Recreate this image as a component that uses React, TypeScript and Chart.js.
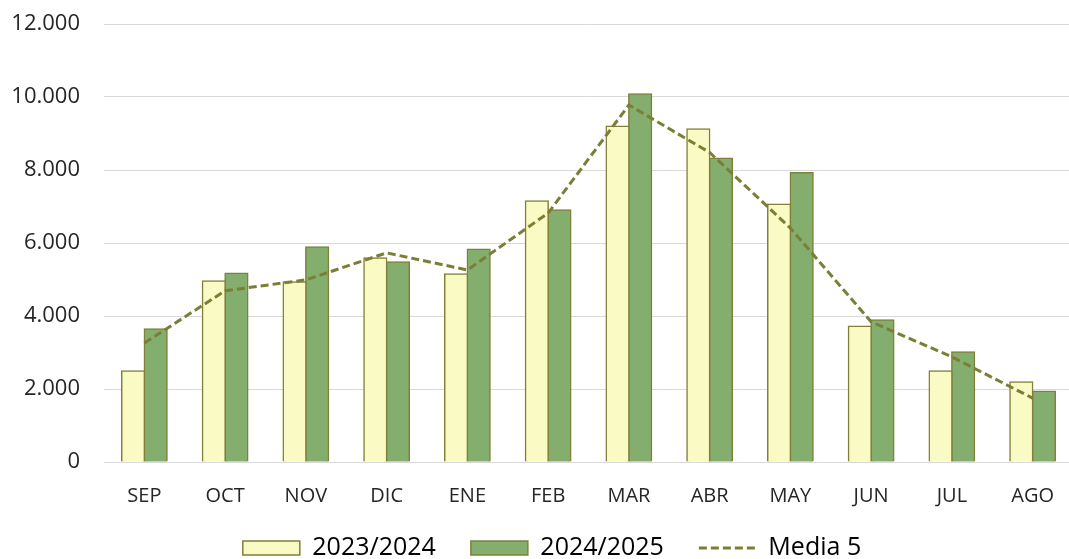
import React, { useEffect, useRef } from "react";
import { Chart, registerables } from "chart.js";

Chart.register(...registerables);

const months = ["SEP", "OCT", "NOV", "DIC", "ENE", "FEB", "MAR", "ABR", "MAY", "JUN", "JUL", "AGO"];
const season2324 = [2490, 4960, 4930, 5590, 5150, 7150, 9200, 9120, 7060, 3720, 2490, 2190];
const season2425 = [3640, 5170, 5890, 5480, 5830, 6900, 10080, 8320, 7920, 3890, 3010, 1940];
const media5 = [3260, 4690, 4990, 5730, 5260, 6820, 9780, 8480, 6410, 3840, 2880, 1750];

const FONT = "'Open Sans', sans-serif";
const LEGEND_FONT = 25;
const LEGEND_PAD = 35;
const LEGEND_CENTER_Y = 548;
const LEGEND_SHIFT_X = 14;

function fmt(v: number): string {
  return String(Math.round(v)).replace(/\B(?=(\d{3})+(?!\d))/g, ".");
}

const legendShift = {
  id: "legendShift",
  afterLayout(chart: any) {
    const lg = chart.legend;
    if (!lg) return;
    const center = lg.top + LEGEND_PAD + LEGEND_FONT / 2;
    const d = LEGEND_CENTER_Y - center;
    lg.top += d;
    lg.bottom += d;
    lg.left += LEGEND_SHIFT_X;
    lg.right += LEGEND_SHIFT_X;
  },
};

export default function App() {
  const ref = useRef<HTMLCanvasElement | null>(null);
  useEffect(() => {
    if (!ref.current) return;
    const chart = new Chart(ref.current, {
      type: "bar",
      plugins: [legendShift],
      data: {
        labels: months,
        datasets: [
          {
            type: "bar",
            label: "2023/2024",
            data: season2324,
            backgroundColor: "#FAFAC4",
            borderColor: "#80803A",
            borderWidth: 1.5,
            barPercentage: 1,
            categoryPercentage: 0.56,
            inflateAmount: 0.8,
            order: 1,
          },
          {
            type: "bar",
            label: "2024/2025",
            data: season2425,
            backgroundColor: "#84AE6E",
            borderColor: "#80803A",
            borderWidth: 1.5,
            barPercentage: 1,
            categoryPercentage: 0.56,
            inflateAmount: 0.8,
            order: 1,
          },
          {
            type: "line",
            label: "Media 5",
            data: media5,
            borderColor: "#7B7E35",
            backgroundColor: "#7B7E35",
            borderWidth: 3,
            borderDash: [8, 4],
            pointRadius: 0,
            tension: 0,
            fill: false,
            order: 0,
          } as any,
        ],
      },
      options: {
        responsive: false,
        maintainAspectRatio: false,
        animation: false,
        layout: { padding: { top: 24, left: 0, right: 0, bottom: 0 } },
        plugins: {
          tooltip: { enabled: false },
          legend: {
            position: "bottom",
            labels: {
              usePointStyle: true,
              pointStyleWidth: 57,
              boxHeight: 14,
              padding: LEGEND_PAD,
              color: "#000000",
              font: { family: FONT, size: LEGEND_FONT },
              sort: (a: any, b: any) => a.datasetIndex - b.datasetIndex,
              generateLabels: (c: any) => {
                const items = Chart.defaults.plugins.legend.labels.generateLabels(c);
                items.forEach((it: any) => {
                  const ds = c.data.datasets[it.datasetIndex];
                  if (ds.type === "line") {
                    it.pointStyle = "line";
                    it.lineWidth = 3;
                    it.lineDash = [8, 4];
                    it.strokeStyle = "#7B7E35";
                  } else {
                    it.pointStyle = "rect";
                    it.lineWidth = 1.5;
                  }
                });
                return items;
              },
            },
          },
        },
        scales: {
          x: {
            grid: { display: false, drawTicks: false },
            border: { display: true, color: "#D9D9D9", width: 1 },
            ticks: { color: "#262626", font: { family: FONT, size: 20 }, padding: 22 },
            afterFit: (s: any) => {
              s.height = 46;
              s.paddingTop = 0;
              s.paddingBottom = 0;
            },
          },
          y: {
            min: 0,
            max: 12000,
            ticks: {
              stepSize: 2000,
              color: "#262626",
              font: { family: FONT, size: 22 },
              padding: 24,
              callback: (v: any) => fmt(Number(v)),
            },
            grid: { color: "#D9D9D9", lineWidth: 1, drawTicks: false },
            border: { display: false },
            afterFit: (s: any) => {
              s.width = 104;
              s.paddingTop = 0;
              s.paddingBottom = 0;
            },
          },
        },
      },
    });
    return () => chart.destroy();
  }, []);
  return (
    <div style={{ position: "absolute", left: 0, top: 0, width: 1069, height: 559, overflow: "hidden", background: "#fff" }}>
      <canvas ref={ref} width={1076} height={578} style={{ display: "block", width: 1076, height: 578 }} />
    </div>
  );
}
